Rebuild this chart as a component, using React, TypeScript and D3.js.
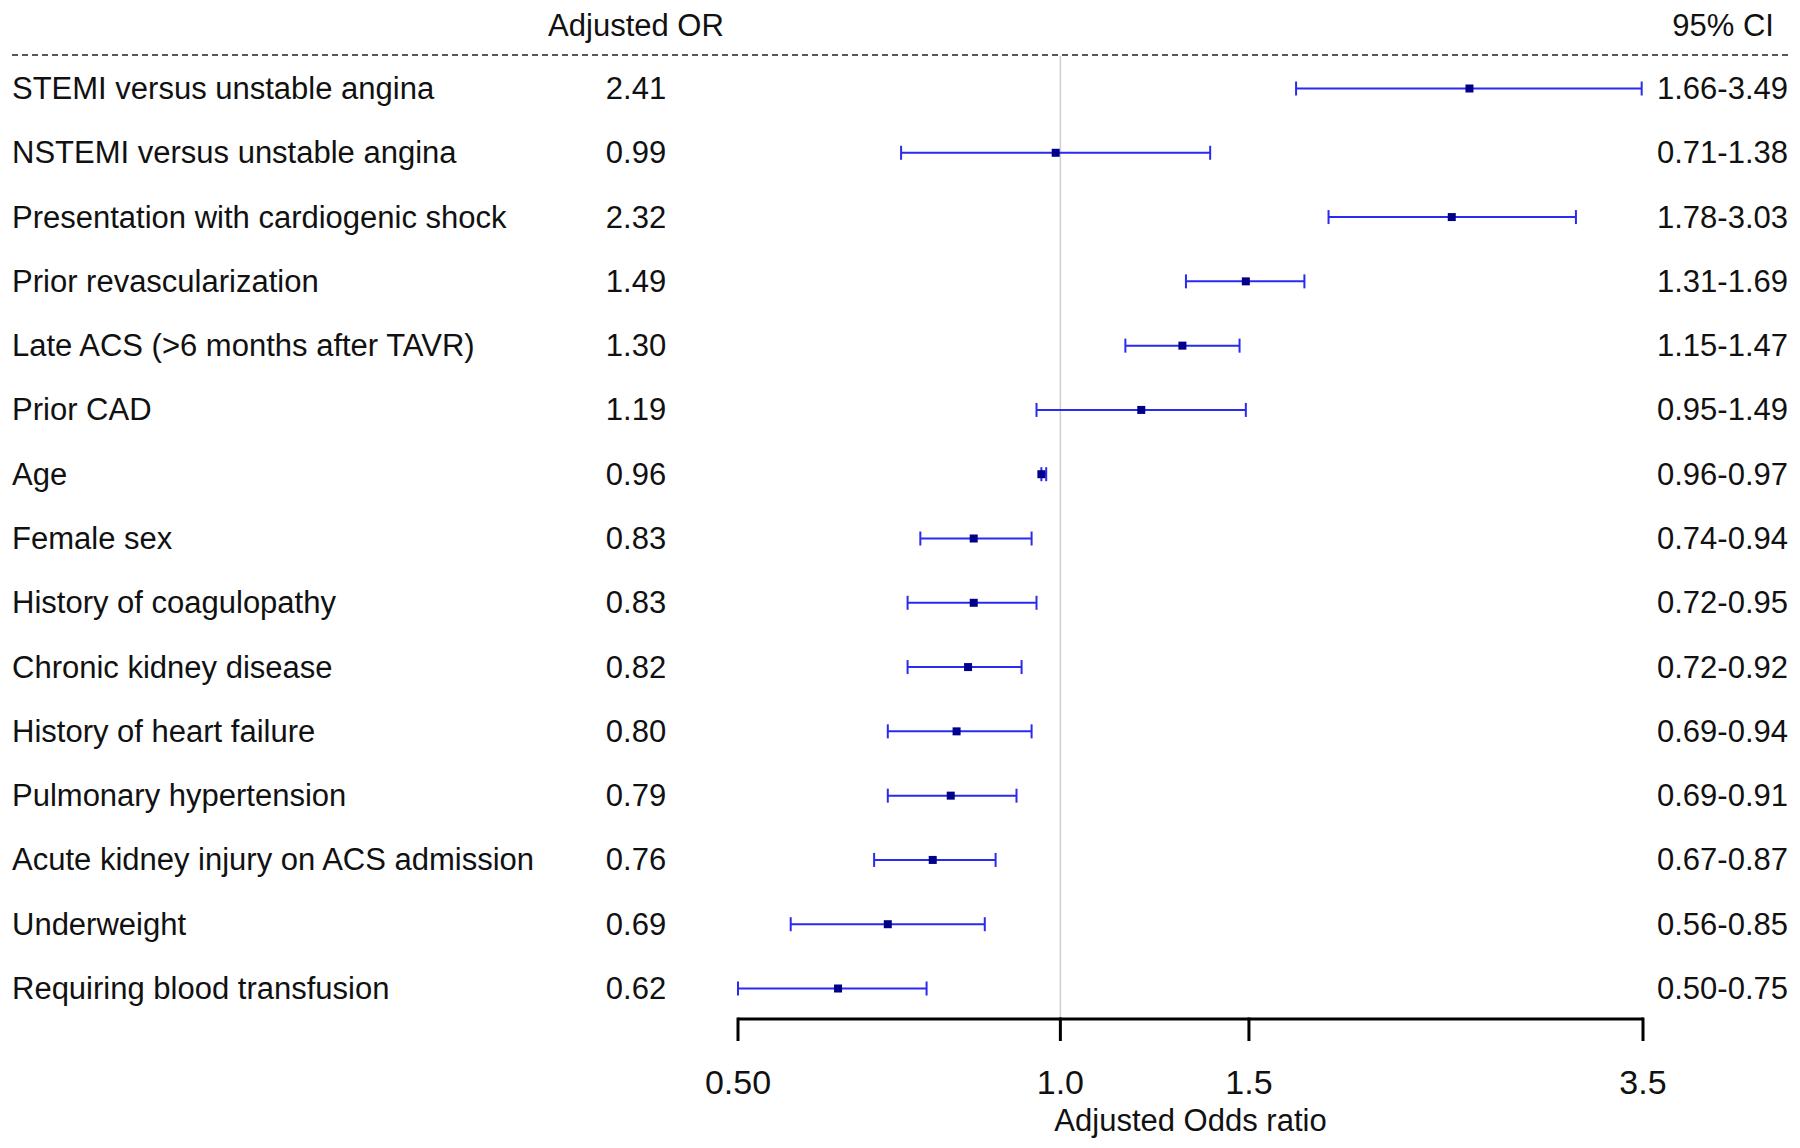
import React from "react";
import * as d3 from "d3";

const labels = [
  "STEMI versus unstable angina",
  "NSTEMI versus unstable angina",
  "Presentation with cardiogenic shock",
  "Prior revascularization",
  "Late ACS (>6 months after TAVR)",
  "Prior CAD",
  "Age",
  "Female sex",
  "History of coagulopathy",
  "Chronic kidney disease",
  "History of heart failure",
  "Pulmonary hypertension",
  "Acute kidney injury on ACS admission",
  "Underweight",
  "Requiring blood transfusion",
];
const orValues = [2.41, 0.99, 2.32, 1.49, 1.3, 1.19, 0.96, 0.83, 0.83, 0.82, 0.8, 0.79, 0.76, 0.69, 0.62];
const ciLow = [1.66, 0.71, 1.78, 1.31, 1.15, 0.95, 0.96, 0.74, 0.72, 0.72, 0.69, 0.69, 0.67, 0.56, 0.5];
const ciHigh = [3.49, 1.38, 3.03, 1.69, 1.47, 1.49, 0.97, 0.94, 0.95, 0.92, 0.94, 0.91, 0.87, 0.85, 0.75];
const orText = ["2.41", "0.99", "2.32", "1.49", "1.30", "1.19", "0.96", "0.83", "0.83", "0.82", "0.80", "0.79", "0.76", "0.69", "0.62"];
const ciText = ["1.66-3.49", "0.71-1.38", "1.78-3.03", "1.31-1.69", "1.15-1.47", "0.95-1.49", "0.96-0.97", "0.74-0.94", "0.72-0.95", "0.72-0.92", "0.69-0.94", "0.69-0.91", "0.67-0.87", "0.56-0.85", "0.50-0.75"];
const tickValues = [0.5, 1.0, 1.5, 3.5];
const tickLabels = ["0.50", "1.0", "1.5", "3.5"];

const W = 1800;
const H = 1148;
const FONT = "'Liberation Sans', Arial, sans-serif";
const FS = 31;
const TICK_FS = 34;

export default function App() {
  const x = d3.scaleLog().domain([0.5, 3.5]).range([738, 1643]);
  const y = d3
    .scalePoint<number>()
    .domain(d3.range(labels.length))
    .range([88.5, 988.5]);
  const axisY = 1019;
  const orX = 636;
  const ciX = 1788;
  const capH = 7;
  const sq = 8;

  return (
    <svg
      width={W}
      height={H}
      style={{ position: "absolute", left: 0, top: 0, background: "#fff" }}
      fontFamily={FONT}
    >
      <rect x={0} y={0} width={W} height={H} fill="#fff" />
      <text x={orX} y={25} fontSize={FS} textAnchor="middle" dominantBaseline="central" fill="#111">
        Adjusted OR
      </text>
      <text x={1774} y={25} fontSize={FS} textAnchor="end" dominantBaseline="central" fill="#111">
        95% CI
      </text>
      <line x1={12} x2={1791} y1={55} y2={55} stroke="#222" strokeWidth={1.6} strokeDasharray="6,4" />
      <line x1={x(1)} x2={x(1)} y1={56} y2={axisY} stroke="#d0d0d0" strokeWidth={1.5} />

      {labels.map((lab, i) => {
        const yy = y(i)!;
        return (
          <g key={i}>
            <text x={12} y={yy} fontSize={FS} dominantBaseline="central" fill="#111">
              {lab}
            </text>
            <text x={orX} y={yy} fontSize={FS} textAnchor="middle" dominantBaseline="central" fill="#111">
              {orText[i]}
            </text>
            <text x={ciX} y={yy} fontSize={FS} textAnchor="end" dominantBaseline="central" fill="#111">
              {ciText[i]}
            </text>
            <line x1={x(ciLow[i])} x2={x(ciHigh[i])} y1={yy} y2={yy} stroke="#2a2af0" strokeWidth={2} />
            <line x1={x(ciLow[i])} x2={x(ciLow[i])} y1={yy - capH} y2={yy + capH} stroke="#2a2af0" strokeWidth={2} />
            <line x1={x(ciHigh[i])} x2={x(ciHigh[i])} y1={yy - capH} y2={yy + capH} stroke="#2a2af0" strokeWidth={2} />
            <rect x={x(orValues[i]) - sq / 2} y={yy - sq / 2} width={sq} height={sq} fill="#00008b" />
          </g>
        );
      })}

      <line x1={x(0.5)} x2={x(3.5)} y1={axisY} y2={axisY} stroke="#000" strokeWidth={3} />
      {tickValues.map((t, i) => (
        <g key={t}>
          <line x1={x(t)} x2={x(t)} y1={axisY - 1.5} y2={axisY + 22} stroke="#000" strokeWidth={3} />
          <text x={x(t)} y={1082} fontSize={TICK_FS} textAnchor="middle" dominantBaseline="central" fill="#111">
            {tickLabels[i]}
          </text>
        </g>
      ))}
      <text x={(x(0.5) + x(3.5)) / 2} y={1120} fontSize={FS} textAnchor="middle" dominantBaseline="central" fill="#111">
        Adjusted Odds ratio
      </text>
    </svg>
  );
}
